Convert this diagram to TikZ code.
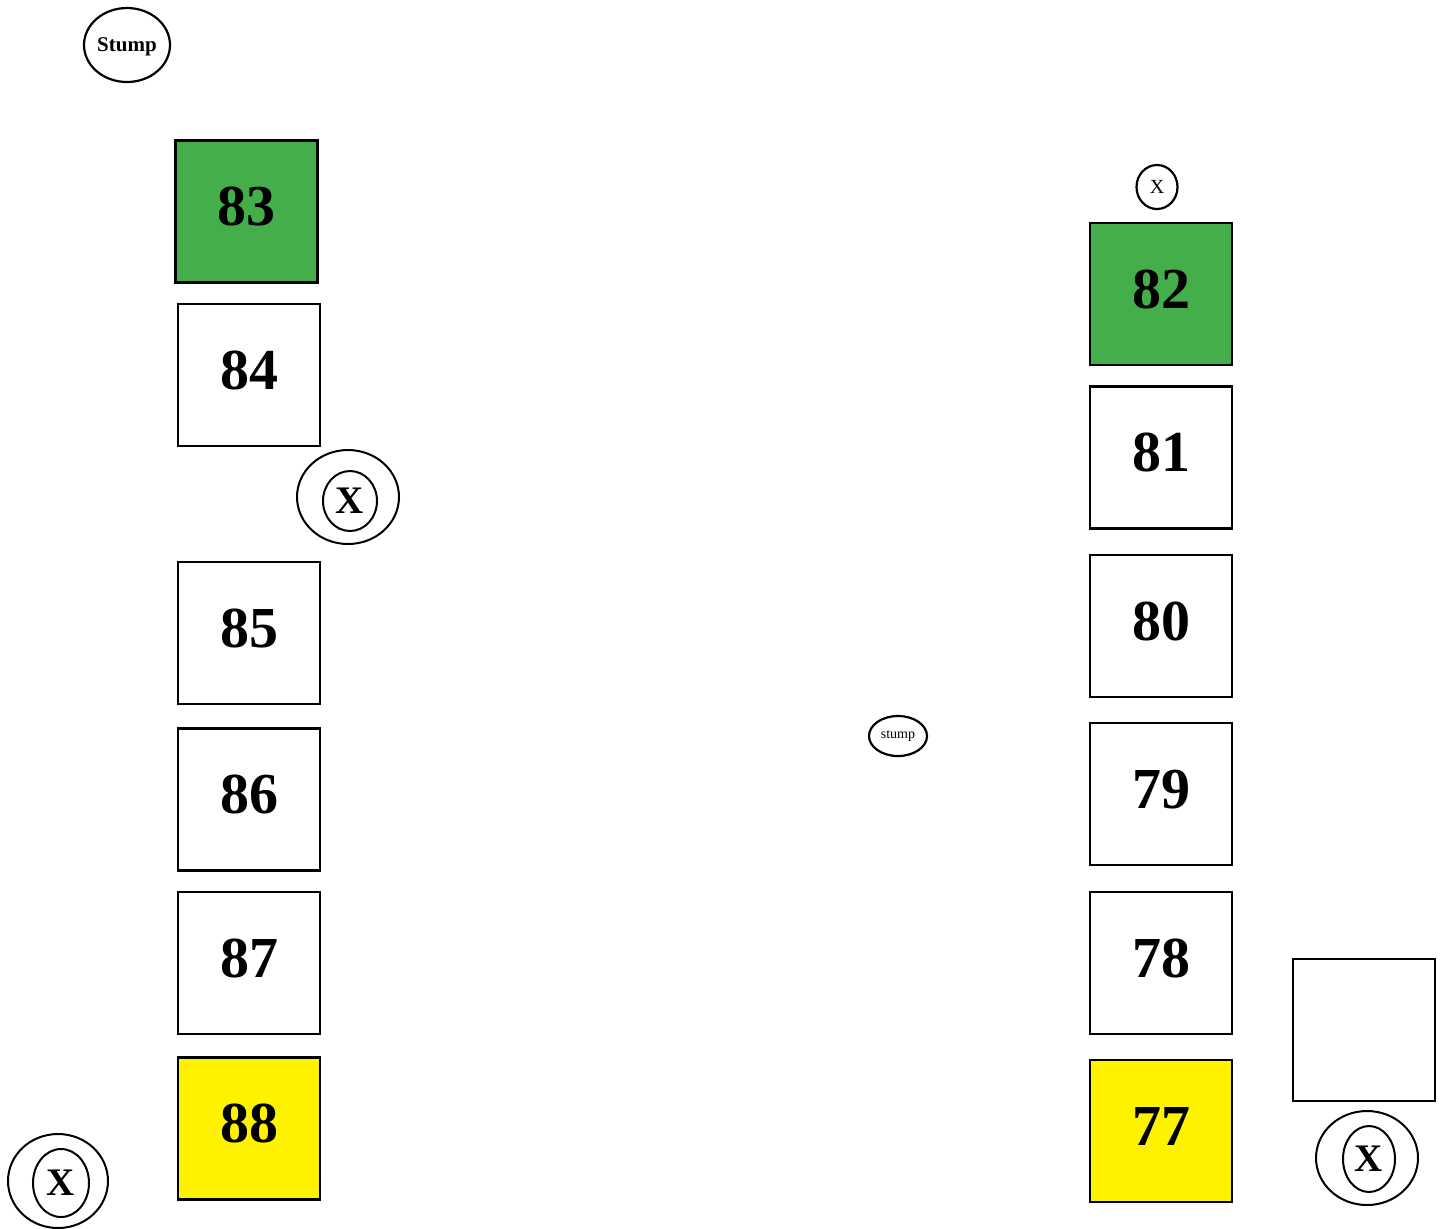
\documentclass[tikz,border=0pt]{standalone}
\usepackage{fontspec}
\setmainfont{Liberation Serif}
\usetikzlibrary{shapes.geometric}
\definecolor{plotgreen}{HTML}{43AE4A}
\definecolor{plotyellow}{HTML}{FFF200}

\begin{document}
\begin{tikzpicture}[x=0.5pt, y=-0.5pt,
    plot/.style={draw, line width=1.25pt, minimum width=71pt, minimum height=71pt,
        inner sep=0pt, text depth=5pt, font=\fontsize{29}{29}\selectfont\bfseries},
    ring/.style={draw, ellipse, line width=1pt, inner sep=0pt},
    tag/.style={draw, ellipse, line width=1.1pt, inner sep=0pt}]

\useasboundingbox (0,0) rectangle (1440,1228);

% Linke Reihe
\node[tag, minimum width=43pt, minimum height=37pt, text depth=0pt, font=\fontsize{10.5}{10.5}\selectfont\bfseries] (stumpL) at (127,45) {Stump};

\node[plot, fill=plotgreen] (p83) at (246.5,211.5) {83};
\node[plot] (p84) at (249,375) {84};
\node[plot] (p85) at (249,633) {85};
\node[plot] (p86) at (249,799.5) {86};
\node[plot] (p87) at (249,963) {87};
\node[plot, fill=plotyellow] (p88) at (249,1128.5) {88};

% Kreuze links
\node[ring, minimum width=51pt, minimum height=47pt] (ringA) at (348,497) {};
\node[ring, minimum width=27pt, minimum height=30pt, font=\fontsize{19.5}{19.5}\selectfont\bfseries] (xA) at (350,501) {X};

\node[ring, minimum width=50pt, minimum height=47pt] (ringB) at (58,1181) {};
\node[ring, minimum width=28pt, minimum height=34pt, font=\fontsize{19.5}{19.5}\selectfont\bfseries] (xB) at (61,1183) {X};

% Mitte
\node[tag, minimum width=29pt, minimum height=20pt, font=\fontsize{7}{7}\selectfont] (stumpM) at (898,736) {stump};

% Rechte Reihe
\node[tag, minimum width=20.5pt, minimum height=22pt, font=\fontsize{10}{10}\selectfont] (xTop) at (1157,187) {X};

\node[plot, fill=plotgreen] (p82) at (1161,294) {82};
\node[plot] (p81) at (1161,457.5) {81};
\node[plot] (p80) at (1161,626) {80};
\node[plot] (p79) at (1161,794) {79};
\node[plot] (p78) at (1161,963) {78};
\node[plot, fill=plotyellow] (p77) at (1161,1131) {77};

\node[plot] (pEmpty) at (1364,1030) {};

\node[ring, minimum width=51pt, minimum height=47pt] (ringC) at (1367,1158) {};
\node[ring, minimum width=26pt, minimum height=33pt, font=\fontsize{19.5}{19.5}\selectfont\bfseries] (xC) at (1369,1159) {X};

\end{tikzpicture}
\end{document}
